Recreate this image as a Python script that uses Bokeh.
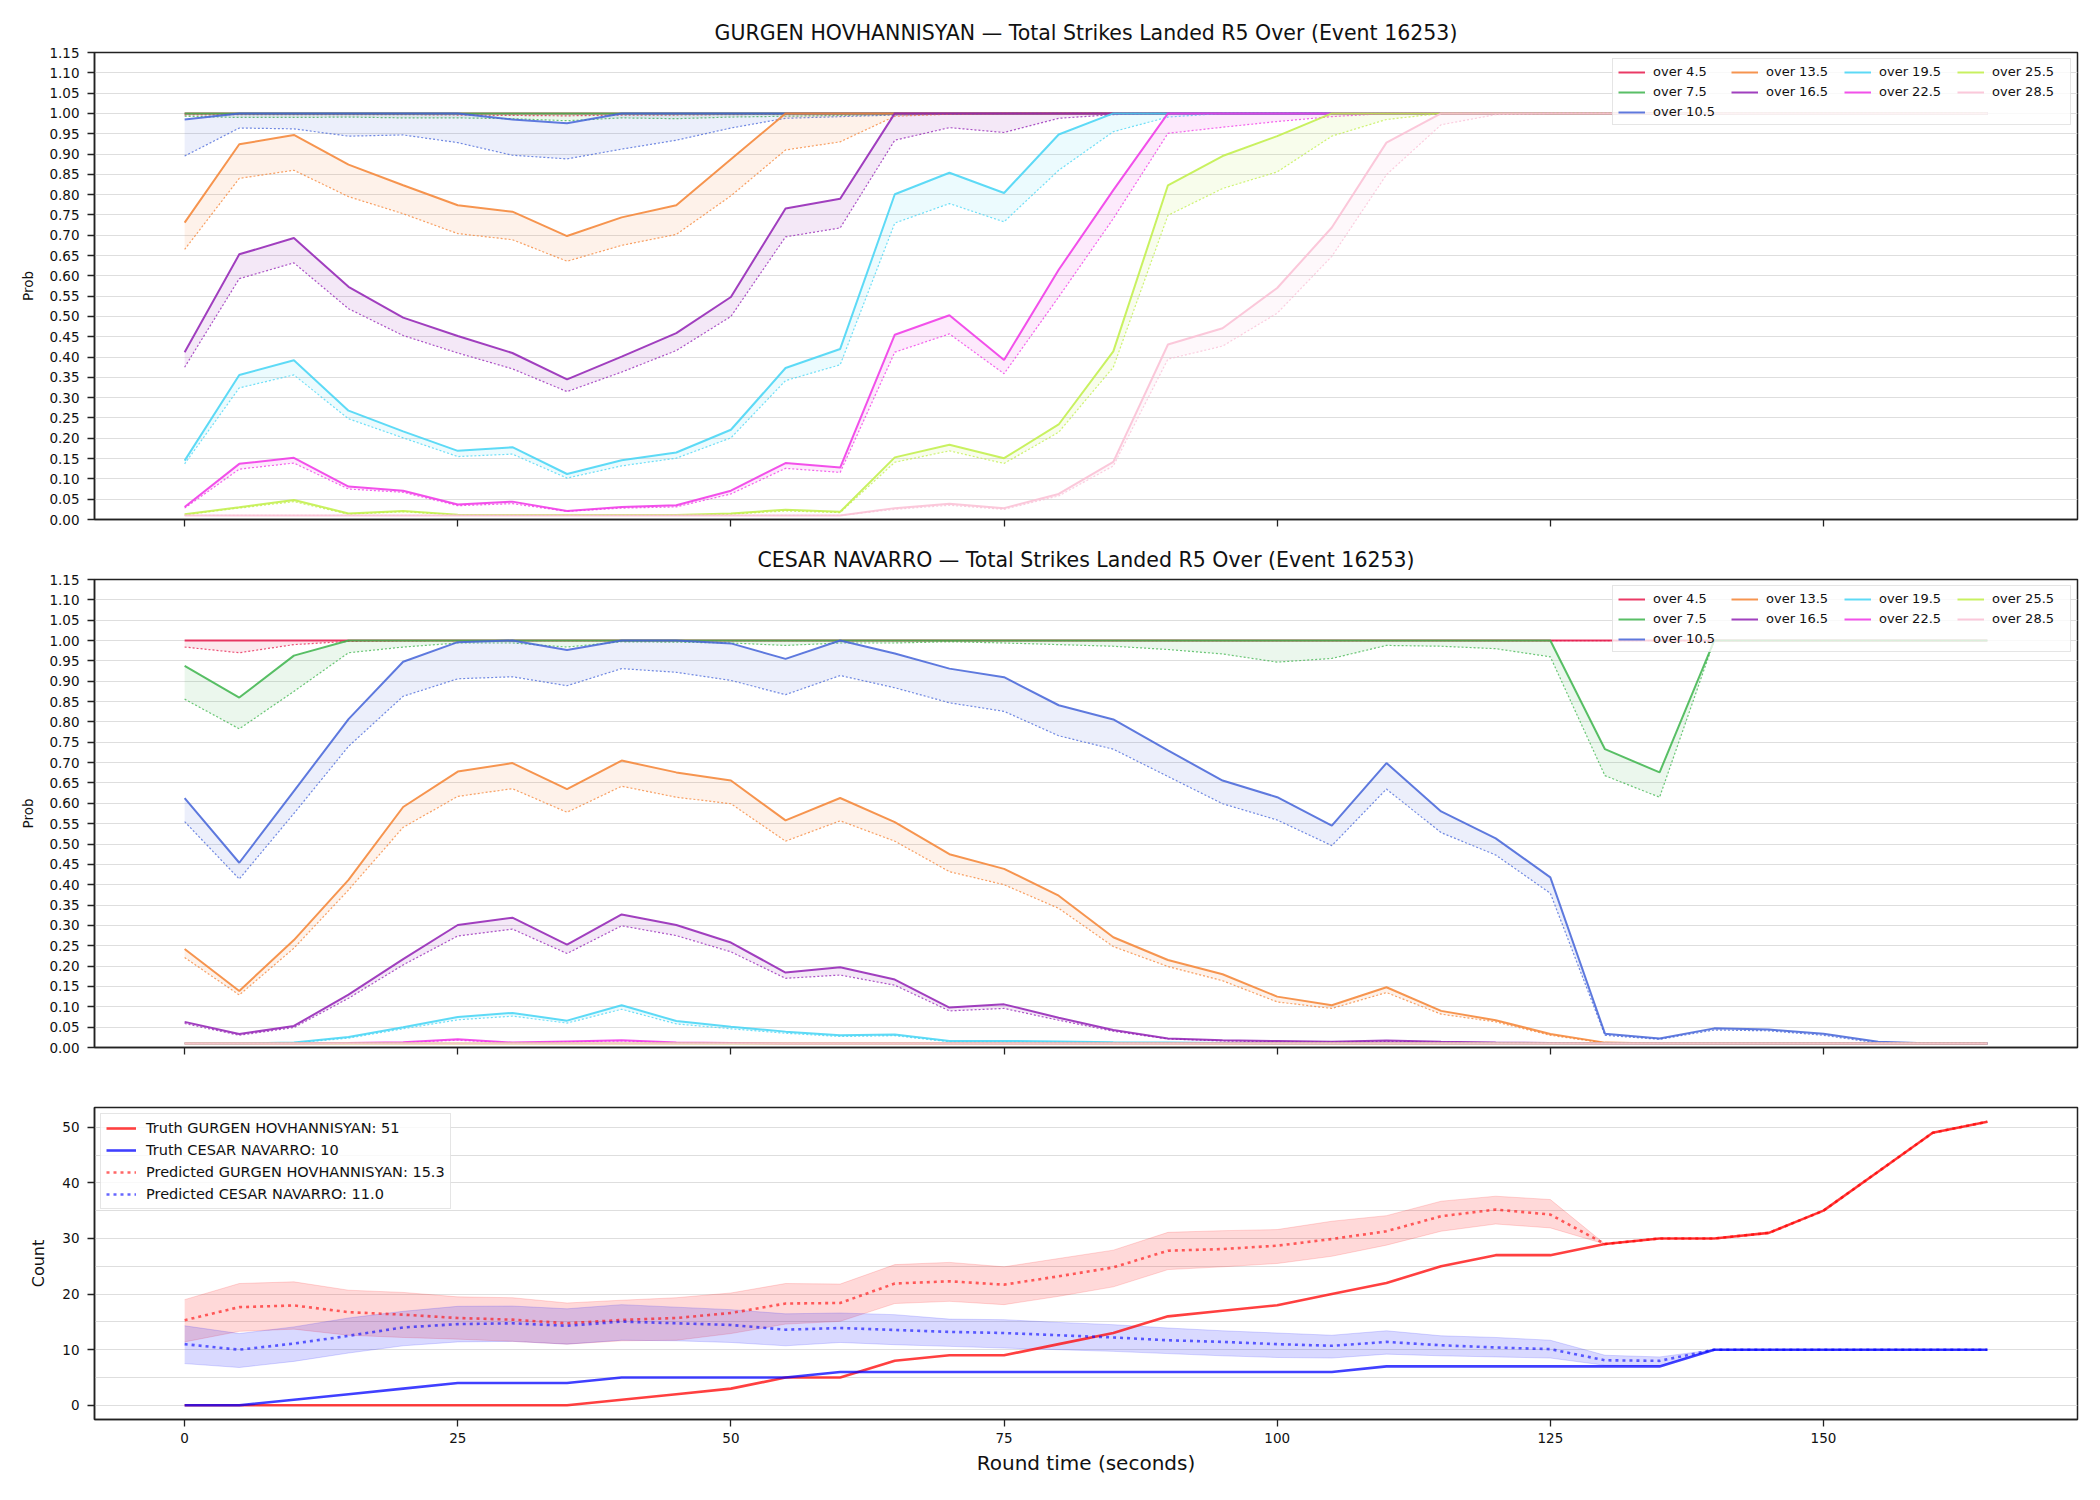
from bokeh.plotting import figure
from bokeh.layouts import column
from bokeh.models import Range1d, FixedTicker, Legend, LegendItem, PrintfTickFormatter
from bokeh.embed import file_html
from bokeh.resources import INLINE

FONT = "DejaVu Sans"

# ---------------------------------------------------------------- data
round_time = [0, 5, 10, 15, 20, 25, 30, 35, 40, 45,
              50, 55, 60, 65, 70, 75, 80, 85, 90, 95,
              100, 105, 110, 115, 120, 125, 130, 135, 140, 145,
              150, 155, 160, 165]

thresholds = ["over 4.5", "over 7.5", "over 10.5", "over 13.5", "over 16.5",
              "over 19.5", "over 22.5", "over 25.5", "over 28.5"]
threshold_colors = ["#e6194b", "#3cb44b", "#4363d8", "#f58231", "#911eb4",
                    "#42d4f4", "#f032e6", "#bfef45", "#fabed4"]

fighter_a = "GURGEN HOVHANNISYAN"
fighter_b = "CESAR NAVARRO"
event_id = 16253

# GURGEN HOVHANNISYAN: probability (solid) and lower bound (dotted) per line
gh_o4_hi = [1.0, 1.0, 1.0, 1.0, 1.0, 1.0, 1.0, 1.0, 1.0, 1.0,
            1.0, 1.0, 1.0, 1.0, 1.0, 1.0, 1.0, 1.0, 1.0, 1.0,
            1.0, 1.0, 1.0, 1.0, 1.0, 1.0, 1.0, 1.0, 1.0, 1.0,
            1.0, 1.0, 1.0, 1.0]
gh_o4_lo = [0.996, 0.997, 0.997, 0.997, 0.997, 0.996, 0.995, 0.994, 0.996, 0.996,
            0.997, 0.998, 0.999, 1.0, 1.0, 1.0, 1.0, 1.0, 1.0, 1.0,
            1.0, 1.0, 1.0, 1.0, 1.0, 1.0, 1.0, 1.0, 1.0, 1.0,
            1.0, 1.0, 1.0, 1.0]
gh_o7_hi = [1.0, 1.0, 1.0, 1.0, 1.0, 1.0, 1.0, 1.0, 1.0, 1.0,
            1.0, 1.0, 1.0, 1.0, 1.0, 1.0, 1.0, 1.0, 1.0, 1.0,
            1.0, 1.0, 1.0, 1.0, 1.0, 1.0, 1.0, 1.0, 1.0, 1.0,
            1.0, 1.0, 1.0, 1.0]
gh_o7_lo = [0.993, 0.990, 0.990, 0.991, 0.989, 0.989, 0.987, 0.982, 0.989, 0.987,
            0.991, 0.993, 0.995, 0.997, 0.998, 0.999, 1.0, 1.0, 1.0, 1.0,
            1.0, 1.0, 1.0, 1.0, 1.0, 1.0, 1.0, 1.0, 1.0, 1.0,
            1.0, 1.0, 1.0, 1.0]
gh_o10_hi = [0.985, 1.0, 1.0, 1.0, 1.0, 1.0, 0.985, 0.976, 1.0, 1.0,
             1.0, 1.0, 1.0, 1.0, 1.0, 1.0, 1.0, 1.0, 1.0, 1.0,
             1.0, 1.0, 1.0, 1.0, 1.0, 1.0, 1.0, 1.0, 1.0, 1.0,
             1.0, 1.0, 1.0, 1.0]
gh_o10_lo = [0.895, 0.964, 0.962, 0.944, 0.947, 0.928, 0.897, 0.888, 0.912, 0.934,
             0.964, 0.988, 0.992, 0.996, 0.998, 1.0, 1.0, 1.0, 1.0, 1.0,
             1.0, 1.0, 1.0, 1.0, 1.0, 1.0, 1.0, 1.0, 1.0, 1.0,
             1.0, 1.0, 1.0, 1.0]
gh_o13_hi = [0.731, 0.924, 0.947, 0.874, 0.823, 0.774, 0.758, 0.698, 0.744, 0.774,
             0.887, 1.0, 1.0, 1.0, 1.0, 1.0, 1.0, 1.0, 1.0, 1.0,
             1.0, 1.0, 1.0, 1.0, 1.0, 1.0, 1.0, 1.0, 1.0, 1.0,
             1.0, 1.0, 1.0, 1.0]
gh_o13_lo = [0.665, 0.840, 0.860, 0.795, 0.753, 0.704, 0.689, 0.636, 0.675, 0.702,
             0.797, 0.910, 0.930, 0.993, 0.998, 1.0, 1.0, 1.0, 1.0, 1.0,
             1.0, 1.0, 1.0, 1.0, 1.0, 1.0, 1.0, 1.0, 1.0, 1.0,
             1.0, 1.0, 1.0, 1.0]
gh_o16_hi = [0.412, 0.653, 0.693, 0.573, 0.497, 0.452, 0.410, 0.345, 0.401, 0.459,
             0.548, 0.766, 0.790, 1.0, 1.0, 1.0, 1.0, 1.0, 1.0, 1.0,
             1.0, 1.0, 1.0, 1.0, 1.0, 1.0, 1.0, 1.0, 1.0, 1.0,
             1.0, 1.0, 1.0, 1.0]
gh_o16_lo = [0.375, 0.593, 0.632, 0.519, 0.453, 0.410, 0.371, 0.315, 0.363, 0.416,
             0.500, 0.696, 0.718, 0.934, 0.965, 0.953, 0.988, 0.997, 1.0, 1.0,
             1.0, 1.0, 1.0, 1.0, 1.0, 1.0, 1.0, 1.0, 1.0, 1.0,
             1.0, 1.0, 1.0, 1.0]
gh_o19_hi = [0.145, 0.356, 0.392, 0.268, 0.217, 0.169, 0.178, 0.112, 0.146, 0.165,
             0.221, 0.373, 0.420, 0.801, 0.854, 0.804, 0.948, 1.0, 1.0, 1.0,
             1.0, 1.0, 1.0, 1.0, 1.0, 1.0, 1.0, 1.0, 1.0, 1.0,
             1.0, 1.0, 1.0, 1.0]
gh_o19_lo = [0.137, 0.324, 0.356, 0.248, 0.201, 0.155, 0.161, 0.102, 0.132, 0.151,
             0.201, 0.342, 0.381, 0.730, 0.778, 0.733, 0.860, 0.955, 0.991, 1.0,
             1.0, 1.0, 1.0, 1.0, 1.0, 1.0, 1.0, 1.0, 1.0, 1.0,
             1.0, 1.0, 1.0, 1.0]
gh_o22_hi = [0.031, 0.137, 0.152, 0.081, 0.071, 0.037, 0.044, 0.021, 0.031, 0.035,
             0.071, 0.139, 0.128, 0.455, 0.503, 0.393, 0.615, 0.811, 1.0, 1.0,
             1.0, 1.0, 1.0, 1.0, 1.0, 1.0, 1.0, 1.0, 1.0, 1.0,
             1.0, 1.0, 1.0, 1.0]
gh_o22_lo = [0.028, 0.124, 0.139, 0.075, 0.067, 0.034, 0.039, 0.020, 0.028, 0.031,
             0.063, 0.126, 0.116, 0.412, 0.457, 0.359, 0.548, 0.741, 0.951, 0.966,
             0.980, 0.992, 1.0, 1.0, 1.0, 1.0, 1.0, 1.0, 1.0, 1.0,
             1.0, 1.0, 1.0, 1.0]
gh_o25_hi = [0.013, 0.030, 0.048, 0.015, 0.021, 0.012, 0.011, 0.011, 0.011, 0.011,
             0.015, 0.024, 0.019, 0.153, 0.184, 0.151, 0.234, 0.414, 0.823, 0.895,
             0.944, 1.0, 1.0, 1.0, 1.0, 1.0, 1.0, 1.0, 1.0, 1.0,
             1.0, 1.0, 1.0, 1.0]
gh_o25_lo = [0.011, 0.028, 0.044, 0.013, 0.019, 0.011, 0.010, 0.010, 0.010, 0.010,
             0.013, 0.021, 0.017, 0.141, 0.169, 0.138, 0.215, 0.375, 0.749, 0.815,
             0.856, 0.944, 0.985, 1.0, 1.0, 1.0, 1.0, 1.0, 1.0, 1.0,
             1.0, 1.0, 1.0, 1.0]
gh_o28_hi = [0.010, 0.010, 0.010, 0.010, 0.010, 0.010, 0.010, 0.010, 0.010, 0.010,
             0.010, 0.010, 0.010, 0.028, 0.039, 0.028, 0.063, 0.142, 0.431, 0.471,
             0.570, 0.719, 0.928, 1.0, 1.0, 1.0, 1.0, 1.0, 1.0, 1.0,
             1.0, 1.0, 1.0, 1.0]
gh_o28_lo = [0.010, 0.010, 0.010, 0.010, 0.010, 0.010, 0.010, 0.010, 0.010, 0.010,
             0.010, 0.010, 0.010, 0.025, 0.035, 0.025, 0.058, 0.132, 0.395, 0.427,
             0.508, 0.648, 0.849, 0.972, 0.997, 1.0, 1.0, 1.0, 1.0, 1.0,
             1.0, 1.0, 1.0, 1.0]

# CESAR NAVARRO: probability (solid) and lower bound (dotted) per line
cn_o4_hi = [1.0, 1.0, 1.0, 1.0, 1.0, 1.0, 1.0, 1.0, 1.0, 1.0,
            1.0, 1.0, 1.0, 1.0, 1.0, 1.0, 1.0, 1.0, 1.0, 1.0,
            1.0, 1.0, 1.0, 1.0, 1.0, 1.0, 1.0, 1.0, 1.0, 1.0,
            1.0, 1.0, 1.0, 1.0]
cn_o4_lo = [0.984, 0.970, 0.990, 0.998, 0.999, 1.0, 1.0, 1.0, 1.0, 1.0,
            1.0, 1.0, 1.0, 1.0, 1.0, 1.0, 1.0, 1.0, 1.0, 1.0,
            1.0, 1.0, 1.0, 1.0, 1.0, 1.0, 1.0, 1.0, 1.0, 1.0,
            1.0, 1.0, 1.0, 1.0]
cn_o7_hi = [0.938, 0.860, 0.963, 1.0, 1.0, 1.0, 1.0, 1.0, 1.0, 1.0,
            1.0, 1.0, 1.0, 1.0, 1.0, 1.0, 1.0, 1.0, 1.0, 1.0,
            1.0, 1.0, 1.0, 1.0, 1.0, 1.0, 0.733, 0.676, 1.0, 1.0,
            1.0, 1.0, 1.0, 1.0]
cn_o7_lo = [0.856, 0.783, 0.875, 0.970, 0.984, 0.994, 0.994, 0.984, 0.997, 0.996,
            0.994, 0.988, 0.994, 0.994, 0.997, 0.994, 0.990, 0.986, 0.978, 0.967,
            0.947, 0.956, 0.988, 0.986, 0.980, 0.960, 0.668, 0.615, 1.0, 1.0,
            1.0, 1.0, 1.0, 1.0]
cn_o10_hi = [0.613, 0.454, 0.630, 0.807, 0.948, 0.996, 1.0, 0.977, 1.0, 1.0,
             0.993, 0.955, 1.0, 0.968, 0.931, 0.910, 0.841, 0.806, 0.730, 0.656,
             0.615, 0.545, 0.699, 0.580, 0.514, 0.418, 0.034, 0.022, 0.047, 0.044,
             0.034, 0.014, 0.010, 0.010]
cn_o10_lo = [0.555, 0.414, 0.575, 0.740, 0.863, 0.906, 0.911, 0.889, 0.931, 0.922,
             0.902, 0.867, 0.914, 0.884, 0.847, 0.826, 0.766, 0.733, 0.666, 0.599,
             0.559, 0.496, 0.635, 0.528, 0.473, 0.379, 0.030, 0.020, 0.043, 0.041,
             0.030, 0.011, 0.010, 0.010]
cn_o13_hi = [0.242, 0.139, 0.264, 0.412, 0.591, 0.678, 0.699, 0.635, 0.705, 0.676,
             0.656, 0.558, 0.613, 0.554, 0.475, 0.439, 0.373, 0.271, 0.215, 0.180,
             0.125, 0.104, 0.148, 0.090, 0.067, 0.033, 0.012, 0.010, 0.010, 0.010,
             0.010, 0.010, 0.010, 0.010]
cn_o13_lo = [0.221, 0.129, 0.244, 0.387, 0.541, 0.617, 0.636, 0.578, 0.642, 0.615,
             0.599, 0.507, 0.557, 0.507, 0.432, 0.400, 0.342, 0.248, 0.199, 0.164,
             0.112, 0.096, 0.135, 0.082, 0.063, 0.030, 0.011, 0.010, 0.010, 0.010,
             0.010, 0.010, 0.010, 0.010]
cn_o16_hi = [0.063, 0.033, 0.053, 0.130, 0.217, 0.301, 0.319, 0.253, 0.327, 0.301,
             0.258, 0.184, 0.197, 0.167, 0.098, 0.106, 0.073, 0.043, 0.022, 0.018,
             0.016, 0.014, 0.017, 0.014, 0.012, 0.011, 0.010, 0.010, 0.010, 0.010,
             0.010, 0.010, 0.010, 0.010]
cn_o16_lo = [0.059, 0.030, 0.049, 0.121, 0.203, 0.274, 0.291, 0.231, 0.299, 0.275,
             0.235, 0.170, 0.178, 0.153, 0.090, 0.096, 0.067, 0.040, 0.021, 0.016,
             0.014, 0.013, 0.015, 0.013, 0.011, 0.010, 0.010, 0.010, 0.010, 0.010,
             0.010, 0.010, 0.010, 0.010]
cn_o19_hi = [0.010, 0.010, 0.012, 0.026, 0.050, 0.075, 0.085, 0.066, 0.104, 0.065,
             0.051, 0.039, 0.030, 0.032, 0.016, 0.016, 0.015, 0.013, 0.012, 0.011,
             0.010, 0.010, 0.010, 0.010, 0.010, 0.010, 0.010, 0.010, 0.010, 0.010,
             0.010, 0.010, 0.010, 0.010]
cn_o19_lo = [0.010, 0.010, 0.011, 0.023, 0.046, 0.068, 0.077, 0.060, 0.094, 0.058,
             0.046, 0.035, 0.027, 0.029, 0.014, 0.014, 0.013, 0.012, 0.011, 0.010,
             0.010, 0.010, 0.010, 0.010, 0.010, 0.010, 0.010, 0.010, 0.010, 0.010,
             0.010, 0.010, 0.010, 0.010]
cn_o22_hi = [0.010, 0.010, 0.010, 0.011, 0.013, 0.020, 0.012, 0.015, 0.018, 0.012,
             0.011, 0.010, 0.010, 0.010, 0.010, 0.010, 0.010, 0.010, 0.010, 0.010,
             0.010, 0.010, 0.010, 0.010, 0.010, 0.010, 0.010, 0.010, 0.010, 0.010,
             0.010, 0.010, 0.010, 0.010]
cn_o22_lo = [0.010, 0.010, 0.010, 0.010, 0.012, 0.018, 0.011, 0.014, 0.016, 0.011,
             0.010, 0.010, 0.010, 0.010, 0.010, 0.010, 0.010, 0.010, 0.010, 0.010,
             0.010, 0.010, 0.010, 0.010, 0.010, 0.010, 0.010, 0.010, 0.010, 0.010,
             0.010, 0.010, 0.010, 0.010]
cn_o25_hi = [0.010, 0.010, 0.010, 0.010, 0.010, 0.010, 0.010, 0.010, 0.010, 0.010,
             0.010, 0.010, 0.010, 0.010, 0.010, 0.010, 0.010, 0.010, 0.010, 0.010,
             0.010, 0.010, 0.010, 0.010, 0.010, 0.010, 0.010, 0.010, 0.010, 0.010,
             0.010, 0.010, 0.010, 0.010]
cn_o25_lo = [0.010, 0.010, 0.010, 0.010, 0.010, 0.010, 0.010, 0.010, 0.010, 0.010,
             0.010, 0.010, 0.010, 0.010, 0.010, 0.010, 0.010, 0.010, 0.010, 0.010,
             0.010, 0.010, 0.010, 0.010, 0.010, 0.010, 0.010, 0.010, 0.010, 0.010,
             0.010, 0.010, 0.010, 0.010]
cn_o28_hi = [0.010, 0.010, 0.010, 0.010, 0.010, 0.010, 0.010, 0.010, 0.010, 0.010,
             0.010, 0.010, 0.010, 0.010, 0.010, 0.010, 0.010, 0.010, 0.010, 0.010,
             0.010, 0.010, 0.010, 0.010, 0.010, 0.010, 0.010, 0.010, 0.010, 0.010,
             0.010, 0.010, 0.010, 0.010]
cn_o28_lo = [0.010, 0.010, 0.010, 0.010, 0.010, 0.010, 0.010, 0.010, 0.010, 0.010,
             0.010, 0.010, 0.010, 0.010, 0.010, 0.010, 0.010, 0.010, 0.010, 0.010,
             0.010, 0.010, 0.010, 0.010, 0.010, 0.010, 0.010, 0.010, 0.010, 0.010,
             0.010, 0.010, 0.010, 0.010]

# strike counts: truth and predicted total with its band
gh_truth = [0, 0, 0, 0, 0, 0, 0, 0, 1, 2,
            3, 5, 5, 8, 9, 9, 11, 13, 16, 17,
            18, 20, 22, 25, 27, 27, 29, 30, 30, 31,
            35, 42, 49, 51]
cn_truth = [0, 0, 1, 2, 3, 4, 4, 4, 5, 5,
            5, 5, 6, 6, 6, 6, 6, 6, 6, 6,
            6, 6, 7, 7, 7, 7, 7, 7, 10, 10,
            10, 10, 10, 10]
gh_pred = [15.3, 17.65, 17.96, 16.75, 16.3, 15.7, 15.4, 14.75, 15.35, 15.7,
           16.6, 18.3, 18.4, 21.9, 22.3, 21.7, 23.2, 24.8, 27.8, 28.1,
           28.7, 29.9, 31.3, 34.0, 35.2, 34.3, 29.0, 30, 30, 31,
           35, 42, 49, 51]
gh_pred_hi = [19.0, 21.9, 22.2, 20.7, 20.3, 19.5, 19.35, 18.4, 18.9, 19.35,
              20.2, 21.9, 21.8, 25.3, 25.7, 24.9, 26.4, 27.9, 31.1, 31.4,
              31.6, 33.1, 34.1, 36.7, 37.6, 37.0, 29.0, 30, 30, 31,
              35, 42, 49, 51]
gh_pred_lo = [11.4, 13.3, 13.7, 12.6, 12.2, 11.9, 11.5, 11.0, 11.6, 11.7,
              12.9, 14.6, 15.1, 18.3, 18.7, 18.1, 19.6, 21.3, 24.4, 24.9,
              25.5, 26.8, 28.8, 31.3, 32.6, 31.9, 29.0, 30, 30, 31,
              35, 42, 49, 51]
cn_pred = [11.0, 10.0, 11.1, 12.5, 14.0, 14.6, 14.75, 14.3, 15.05, 14.75,
           14.45, 13.6, 13.9, 13.55, 13.2, 13.0, 12.6, 12.2, 11.7, 11.4,
           11.0, 10.7, 11.4, 10.8, 10.4, 10.1, 8.1, 8.0, 10, 10,
           10, 10, 10, 10]
cn_pred_hi = [14.3, 12.9, 14.1, 15.7, 16.9, 17.8, 17.85, 17.35, 18.1, 17.65,
              17.2, 16.45, 16.6, 16.3, 15.5, 15.4, 14.9, 14.5, 13.9, 13.4,
              13.0, 12.6, 13.4, 12.5, 12.2, 11.7, 9.0, 8.7, 10, 10,
              10, 10, 10, 10]
cn_pred_lo = [7.5, 6.8, 7.9, 9.4, 10.7, 11.4, 11.5, 11.0, 11.7, 11.6,
              11.3, 10.7, 11.3, 10.9, 10.6, 10.3, 10.0, 9.7, 9.3, 8.9,
              8.6, 8.5, 9.2, 8.9, 8.7, 8.5, 7.2, 7.1, 10, 10,
              10, 10, 10, 10]

gh_lines = [(gh_o4_hi, gh_o4_lo), (gh_o7_hi, gh_o7_lo), (gh_o10_hi, gh_o10_lo),
            (gh_o13_hi, gh_o13_lo), (gh_o16_hi, gh_o16_lo), (gh_o19_hi, gh_o19_lo),
            (gh_o22_hi, gh_o22_lo), (gh_o25_hi, gh_o25_lo), (gh_o28_hi, gh_o28_lo)]
cn_lines = [(cn_o4_hi, cn_o4_lo), (cn_o7_hi, cn_o7_lo), (cn_o10_hi, cn_o10_lo),
            (cn_o13_hi, cn_o13_lo), (cn_o16_hi, cn_o16_lo), (cn_o19_hi, cn_o19_lo),
            (cn_o22_hi, cn_o22_lo), (cn_o25_hi, cn_o25_lo), (cn_o28_hi, cn_o28_lo)]

# ---------------------------------------------------------------- styling helpers
X_RANGE = (-8.25, 173.25)
X_TICKS = [0, 25, 50, 75, 100, 125, 150]
INK = "#222222"


def style_common(p):
    p.background_fill_color = "white"
    p.border_fill_color = "white"
    p.outline_line_color = INK
    p.outline_line_width = 1.5
    p.outline_line_alpha = 1.0
    p.xgrid.visible = False
    p.ygrid.grid_line_color = "#dedede"
    p.ygrid.grid_line_width = 1
    for ax in (p.xaxis[0], p.yaxis[0]):
        ax.axis_line_color = INK
        ax.axis_line_width = 1.5
        ax.major_tick_line_color = INK
        ax.major_tick_line_width = 1.3
        ax.major_tick_out = 7
        ax.major_tick_in = 0
        ax.minor_tick_line_color = None
        ax.major_label_text_font = FONT
        ax.major_label_text_font_size = "13.5px"
        ax.major_label_text_color = "#111111"
        ax.major_label_standoff = 8
        ax.axis_label_text_font = FONT
        ax.axis_label_text_font_style = "normal"
        ax.axis_label_text_color = "#111111"
    p.xaxis.ticker = FixedTicker(ticks=X_TICKS)


def prob_panel(title, lines, height, border_top):
    p = figure(width=2100, height=height, output_backend="svg", toolbar_location=None,
               x_range=Range1d(*X_RANGE), y_range=Range1d(0.0, 1.15),
               min_border_left=94, min_border_right=23,
               min_border_top=border_top, min_border_bottom=10)
    p.title.text = title
    p.title.text_font = FONT
    p.title.text_font_size = "20.5px"
    p.title.text_font_style = "normal"
    p.title.text_color = "#111111"
    p.title.align = "center"
    p.title.standoff = 16
    style_common(p)

    renderers = []
    for (hi, lo), color in zip(lines, threshold_colors):
        p.varea(x=round_time, y1=lo, y2=hi, fill_color=color, fill_alpha=0.1)
        p.line(round_time, lo, line_color=color, line_width=1.2, line_alpha=0.75,
               line_dash="2 2")
        r = p.line(round_time, hi, line_color=color, line_width=2.0, line_alpha=0.85)
        renderers.append(r)

    # four-column legend filled row by row: columns read 3-2-2-2 top to bottom
    items = [LegendItem(label=lab, renderers=[r]) for lab, r in zip(thresholds, renderers)]
    row_major = [items[i] for i in (0, 3, 5, 7, 1, 4, 6, 8, 2)]
    legend = Legend(items=row_major, location="top_right", orientation="horizontal", ncols=4,
                    margin=6, padding=5, spacing=5, glyph_width=27, glyph_height=14,
                    label_height=14, label_width=73, label_standoff=8,
                    label_text_font=FONT, label_text_font_size="13px",
                    label_text_color="#111111",
                    border_line_color="#cccccc", border_line_width=1.5,
                    background_fill_color="white", background_fill_alpha=0.8)
    p.add_layout(legend)

    p.yaxis.ticker = FixedTicker(ticks=[round(i * 0.05, 2) for i in range(24)])
    p.yaxis.formatter = PrintfTickFormatter(format="%.2f")
    p.yaxis.axis_label = "Prob"
    p.yaxis.axis_label_text_font_size = "13.5px"
    p.yaxis.axis_label_standoff = 10
    # shared time axis: tick marks only, labels live on the bottom panel
    p.xaxis.major_label_text_color = None
    p.xaxis.major_label_text_font_size = "1px"
    p.xaxis.major_label_standoff = 0
    return p


p1 = prob_panel(f"{fighter_a} \u2014 Total Strikes Landed R5 Over (Event {event_id})",
                gh_lines, 529, 52)
p2 = prob_panel(f"{fighter_b} \u2014 Total Strikes Landed R5 Over (Event {event_id})",
                cn_lines, 528, 50)

# ---------------------------------------------------------------- count panel
p3 = figure(width=2100, height=442, output_backend="svg", toolbar_location=None,
            x_range=Range1d(*X_RANGE), y_range=Range1d(-2.55, 53.55),
            min_border_left=94, min_border_right=23,
            min_border_top=50, min_border_bottom=80)
style_common(p3)

for lo, hi, color in ((gh_pred_lo, gh_pred_hi, "red"), (cn_pred_lo, cn_pred_hi, "blue")):
    p3.varea(x=round_time, y1=lo, y2=hi, fill_color=color, fill_alpha=0.15)
    p3.line(round_time, lo, line_color=color, line_alpha=0.15, line_width=1)
    p3.line(round_time, hi, line_color=color, line_alpha=0.15, line_width=1)

r_gh_truth = p3.line(round_time, gh_truth, line_color="red", line_alpha=0.75, line_width=2.6)
r_cn_truth = p3.line(round_time, cn_truth, line_color="blue", line_alpha=0.75, line_width=2.6)
r_gh_pred = p3.line(round_time, gh_pred, line_color="red", line_alpha=0.6, line_width=2.6,
                    line_dash="3 4")
r_cn_pred = p3.line(round_time, cn_pred, line_color="blue", line_alpha=0.6, line_width=2.6,
                    line_dash="3 4")

legend3 = Legend(items=[
    LegendItem(label=f"Truth {fighter_a}: {gh_truth[-1]}", renderers=[r_gh_truth]),
    LegendItem(label=f"Truth {fighter_b}: {cn_truth[-1]}", renderers=[r_cn_truth]),
    LegendItem(label=f"Predicted {fighter_a}: {gh_pred[0]:.1f}", renderers=[r_gh_pred]),
    LegendItem(label=f"Predicted {fighter_b}: {cn_pred[0]:.1f}", renderers=[r_cn_pred]),
], location="top_left", margin=6, padding=5, spacing=4, glyph_width=30, glyph_height=18,
    label_height=18, label_standoff=10, label_text_font=FONT,
    label_text_font_size="14.5px", label_text_color="#111111",
    border_line_color="#cccccc", border_line_width=1.5,
    background_fill_color="white", background_fill_alpha=0.8)
p3.add_layout(legend3)

p3.yaxis.ticker = FixedTicker(ticks=[0, 10, 20, 30, 40, 50])
p3.ygrid.ticker = FixedTicker(ticks=[0, 5, 10, 15, 20, 25, 30, 35, 40, 45, 50])
p3.yaxis.axis_label = "Count"
p3.yaxis.axis_label_text_font_size = "16px"
p3.yaxis.axis_label_standoff = 11
p3.xaxis.axis_label = "Round time (seconds)"
p3.xaxis.axis_label_text_font_size = "20px"
p3.xaxis.major_label_standoff = 6
p3.xaxis.axis_label_standoff = 5

layout = column(p1, p2, p3, spacing=0)

open("out.html", "w").write(file_html(layout, INLINE))
